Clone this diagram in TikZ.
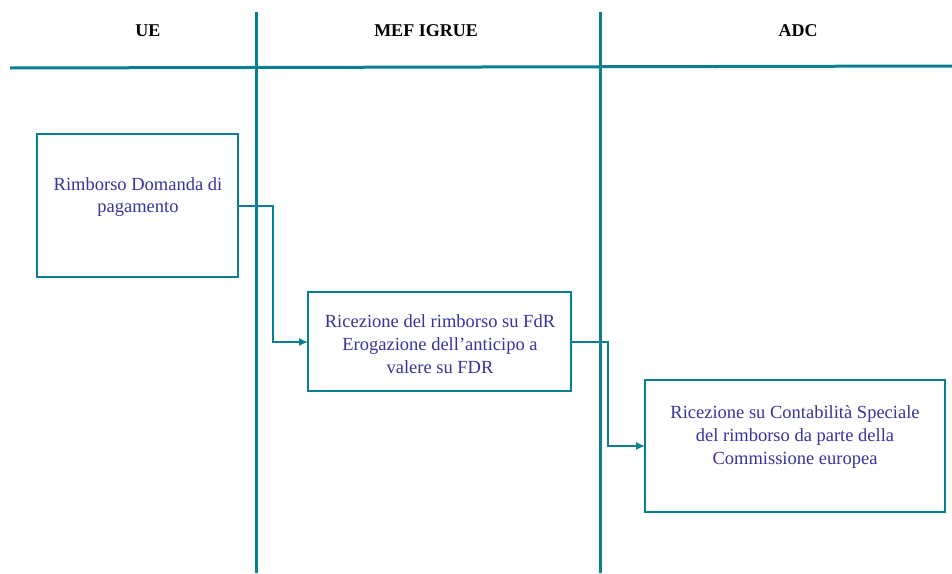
\documentclass[tikz,border=0pt]{standalone}
\usepackage{fontspec}
\setmainfont{Liberation Serif}
\usetikzlibrary{arrows.meta}
\definecolor{teal1}{HTML}{0A7F92}
\definecolor{txtblue}{HTML}{3535A0}
\begin{document}
\begin{tikzpicture}[x=1pt,y=-1pt,
  lane/.style={draw=teal1,line width=3pt},
  box/.style={draw=teal1,line width=2.3pt,fill=white},
  btext/.style={text=txtblue,font=\fontsize{18.5}{22.8}\selectfont,align=center},
  head/.style={font=\bfseries\fontsize{18}{20}\selectfont},
  conn/.style={draw=teal1,line width=1.4pt,-{Latex[length=9pt,width=8pt]}}]
\useasboundingbox (0,0) rectangle (952,573);
% lanes
\draw[lane] (256,12) -- (256,573);
\draw[lane] (600,12) -- (600,573);
\draw[lane] (10,68) -- (952,66);
\node[head] (h1) at (148,31) {UE};
\node[head] (h2) at (426,31) {MEF IGRUE};
\node[head] (h3) at (798,31) {ADC};
% boxes
\path[box] (37,134) rectangle (238,277);
\coordinate (b1r) at (238,206);
\node[btext] (t1) at (138,197) {Rimborso Domanda di\\pagamento};
\path[box] (308,292) rectangle (571,391);
\coordinate (b2l) at (308,342);
\coordinate (b2r) at (571,342);
\node[btext] (t2) at (440,344) {Ricezione del rimborso su FdR\\Erogazione dell’anticipo a\\valere su FDR};
\path[box] (645,380) rectangle (945,512);
\coordinate (b3l) at (645,446);
\node[btext] (t3) at (795,437) {Ricezione su Contabilità Speciale\\del rimborso da parte della\\Commissione europea};
% connectors
\draw[conn] (b1r) -- (273,206) -- (273,342) -- (b2l);
\draw[conn] (b2r) -- (608,342) -- (608,446) -- (b3l);
\end{tikzpicture}
\end{document}
